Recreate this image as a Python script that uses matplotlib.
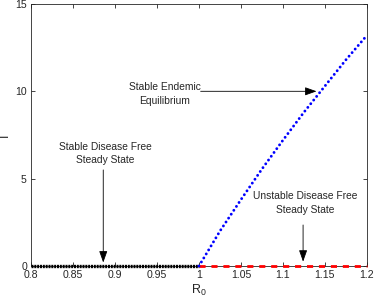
import numpy as np
import matplotlib
matplotlib.use("Agg")
import matplotlib.pyplot as plt

plt.rcParams['font.family'] = ['Liberation Sans', 'DejaVu Sans']
plt.rcParams['mathtext.fontset'] = 'custom'
plt.rcParams['mathtext.rm'] = 'Liberation Sans'
plt.rcParams['mathtext.it'] = 'Liberation Sans'

# Stable disease free branch (R0 < 1)
r0_dfe_stable = [0.8, 1.0]
i_dfe_stable = [0, 0]

# Unstable disease free branch (R0 > 1)
r0_dfe_unstable = [1.0, 1.2]
i_dfe_unstable = [0, 0]

# Stable endemic equilibrium
r0_endemic = [1.0, 1.025, 1.05, 1.075, 1.1, 1.125, 1.15, 1.175, 1.2]
i_endemic = [0, 2.0, 3.8, 5.55, 7.2, 8.8, 10.3, 11.8, 13.2]

xticks = [0.8, 0.85, 0.9, 0.95, 1.0, 1.05, 1.1, 1.15, 1.2]
xticklabels = ['0.8', '0.85', '0.9', '0.95', '1', '1.05', '1.1', '1.15', '1.2']
yticks = [0, 5, 10, 15]

fig = plt.figure(figsize=(3.74, 3.03), dpi=100)
ax = fig.add_axes([0.083, 0.122, 0.898, 0.865])

grey = '#262626'

ax.plot(r0_dfe_stable, i_dfe_stable, color='black', lw=2.4,
        dashes=(0.6, 0.25), zorder=5, clip_on=False)
ax.plot(r0_dfe_unstable, i_dfe_unstable, color='#ff0000', lw=2.0,
        dashes=(2.2, 2.1), zorder=5, clip_on=False)
ax.plot(r0_endemic, i_endemic, color='blue', lw=2.1,
        dashes=(0.01, 1.6), dash_capstyle='round', zorder=5, clip_on=False)

ax.set_xlim(0.8, 1.2)
ax.set_ylim(0, 15)
ax.set_xticks(xticks)
ax.set_xticklabels(xticklabels)
ax.set_yticks(yticks)
ax.tick_params(direction='in', top=True, right=True, length=3, width=0.6,
               labelsize=7.6, colors=grey, pad=3)
for s in ax.spines.values():
    s.set_color(grey)
    s.set_linewidth(0.6)

ax.set_xlabel('R$_0$', fontsize=9, color=grey, labelpad=2)
ax.set_ylabel('I', fontsize=9, color=grey, labelpad=3)

arrow = dict(arrowstyle='-|>,head_length=0.7,head_width=0.25', color='black',
             lw=0.6, shrinkA=0, shrinkB=0)
txt = dict(fontsize=7.4, color=grey, ha='center', va='center', linespacing=1.45)

ax.text(0.959, 9.85, 'Stable Endemic\nEquilibrium', **txt)
ax.annotate('', xy=(1.140, 10.0), xytext=(1.002, 10.0), arrowprops=arrow)

ax.text(0.888, 6.45, 'Stable Disease Free\nSteady State', **txt)
ax.annotate('', xy=(0.886, 0.2), xytext=(0.886, 5.5), arrowprops=arrow)

ax.text(1.126, 3.6, 'Unstable Disease Free\nSteady State', **txt)
ax.annotate('', xy=(1.124, 0.25), xytext=(1.124, 2.35), arrowprops=arrow)

fig.savefig('out.png', dpi=100)
